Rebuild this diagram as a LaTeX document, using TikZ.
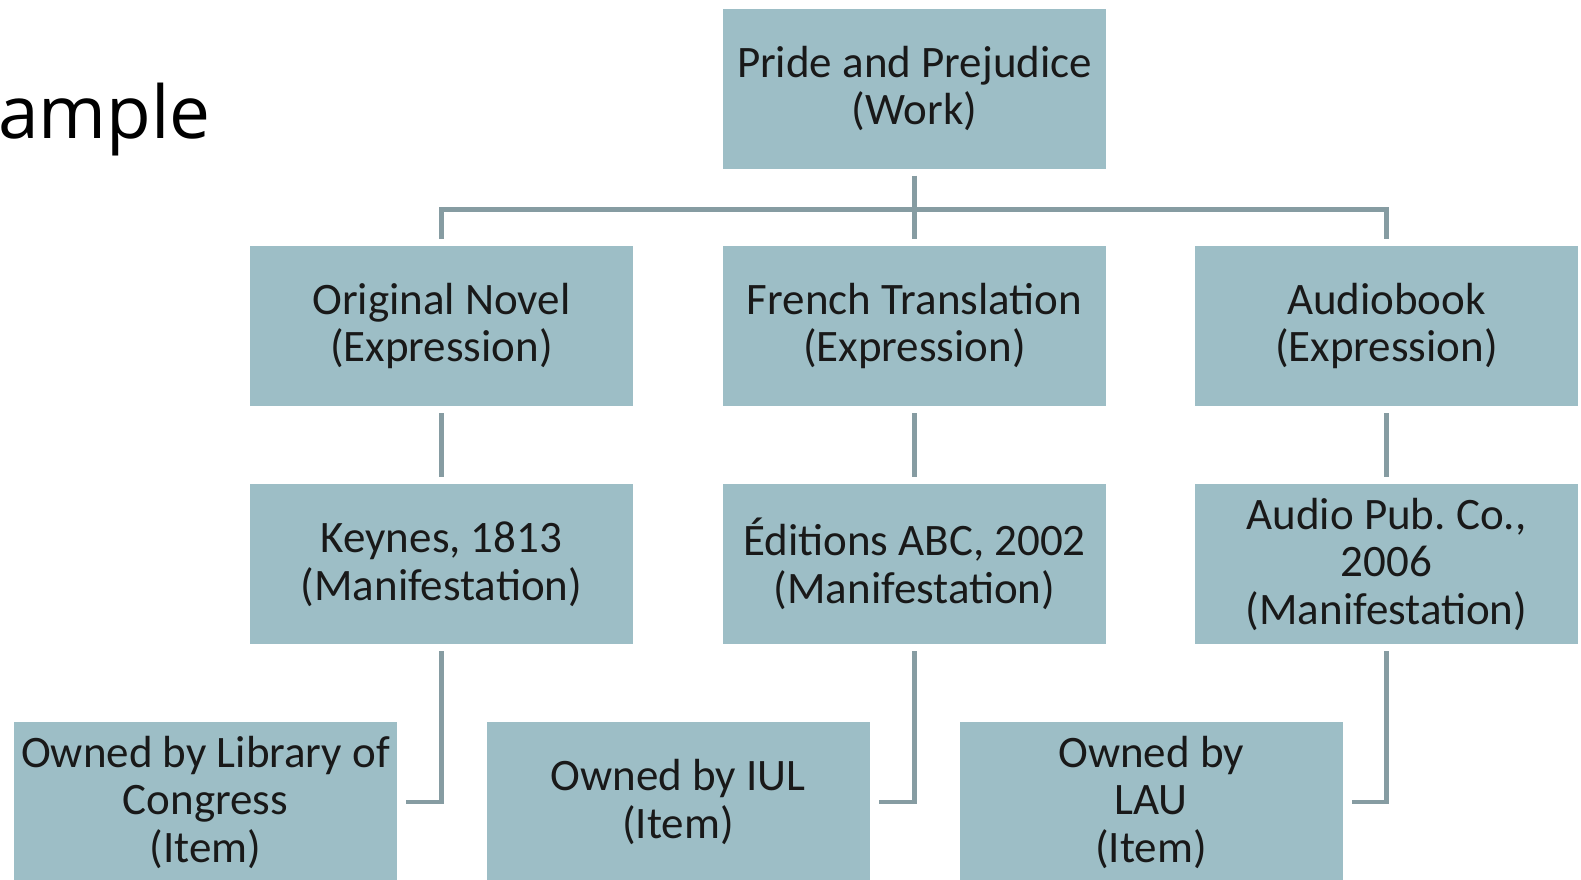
\documentclass[tikz,border=0pt]{standalone}
\usepackage{fontspec}
\setmainfont{Carlito}
\newfontfamily\titlefont{Open Sans}
\usetikzlibrary{positioning,calc}
\definecolor{boxfill}{RGB}{157,190,198}
\definecolor{linegray}{RGB}{134,156,162}
\definecolor{txtdark}{RGB}{25,25,25}

\begin{document}
\begin{tikzpicture}[x=1pt,y=-1pt,
    frbr/.style={fill=boxfill,draw=none,minimum width=383pt,minimum height=160pt,
      align=center,text=txtdark,font=\fontsize{45}{47.5}\selectfont,inner sep=0pt},
    link/.style={draw=linegray,line width=4.5pt}]
  \useasboundingbox (0,0) rectangle (1581,879);
  % slide title, cut off at the left edge
  \node[anchor=base west,inner sep=0pt,font=\titlefont\fontsize{73}{80}\selectfont] (title) at (-2,138) {ample};
  % work
  \node[frbr] (work) at (914.5,88.5) {Pride and Prejudice\\(Work)};
  % expressions
  \node[frbr] (orig) at (441.5,326) {Original Novel\\(Expression)};
  \node[frbr] (french) at (914.5,326) {French Translation\\(Expression)};
  \node[frbr] (audio) at (1386.5,326) {Audiobook\\(Expression)};
  % manifestations
  \node[frbr] (keynes) at (441.5,564) {Keynes, 1813\\(Manifestation)};
  \node[frbr] (abc) at (914.5,564) {Éditions ABC, 2002\\(Manifestation)};
  \node[frbr] (audiopub) at (1386.5,564) {Audio Pub.\ Co.,\\2006\\(Manifestation)};
  % items
  \node[frbr] (loc) at (205.5,802) {Owned by Library of\\Congress\\(Item)};
  \node[frbr] (iul) at (678,802) {Owned by IUL\\(Item)};
  \node[frbr] (lau) at (1151,802) {Owned by\\LAU\\(Item)};

  \coordinate (split) at ($(work.south)+(0,41)$);
  \draw[link] ([yshift=-7pt]work.south) -- ([yshift=7pt]french.north);
  \draw[link] ([yshift=7pt]orig.north) |- (split) -| ([yshift=7pt]audio.north);
  \foreach \e/\m in {orig/keynes,french/abc,audio/audiopub}
    \draw[link] ([yshift=-7pt]\e.south) -- ([yshift=7pt]\m.north);
  \foreach \m/\i in {keynes/loc,abc/iul,audiopub/lau}
    \draw[link] ([yshift=-7pt]\m.south) |- ([xshift=9pt]\i.east);
\end{tikzpicture}
\end{document}
